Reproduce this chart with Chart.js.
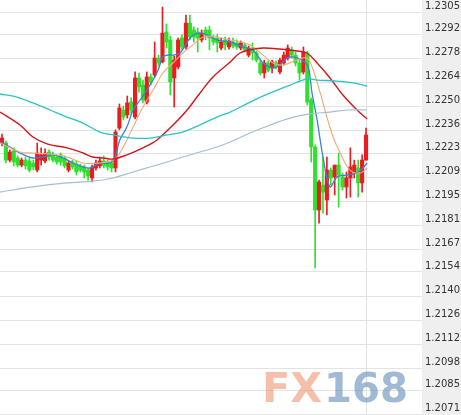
<!DOCTYPE html>
<html>
<head>
<meta charset="utf-8">
<script src="https://cdn.jsdelivr.net/npm/chart.js@4.4.0/dist/chart.umd.min.js"></script>
<style>
  html, body { margin: 0; padding: 0; background: #fff; }
  canvas { display: block; }
</style>
</head>
<body>
<canvas id="chart" width="461" height="415"></canvas>
<script>
// candles, oldest first (red = up, green = down)
const opens = [
  1.22289, 1.22289, 1.22190, 1.22243, 1.22202, 1.22161, 1.22190, 1.22185, 1.22173, 1.22132,
  1.22190, 1.22185, 1.22237, 1.22225, 1.22208, 1.22220, 1.22202, 1.22132, 1.22179, 1.22167,
  1.22156, 1.22150, 1.22132, 1.22086, 1.22144, 1.22156, 1.22185, 1.22179, 1.22173, 1.22144,
  1.22376, 1.22481, 1.22452, 1.22527, 1.22440, 1.22667, 1.22626, 1.22527, 1.22673, 1.22684,
  1.22783, 1.22760, 1.22934, 1.22888, 1.22667, 1.22731, 1.22899, 1.22847, 1.22986, 1.22946,
  1.22934, 1.22888, 1.22946, 1.22946, 1.22899, 1.22899, 1.22841, 1.22888, 1.22847, 1.22876,
  1.22870, 1.22841, 1.22859, 1.22800, 1.22841, 1.22812, 1.22754, 1.22696, 1.22754, 1.22725,
  1.22754, 1.22702, 1.22754, 1.22783, 1.22830, 1.22800, 1.22754, 1.22702, 1.22812, 1.22539,
  1.22266, 1.21900, 1.22045, 1.21958, 1.22132, 1.22092, 1.22161, 1.22092, 1.22034, 1.22086,
  1.22115, 1.22144, 1.22057, 1.22190
];
const highs = [
  1.22341, 1.22301, 1.22249, 1.22261, 1.22214, 1.22202, 1.22208, 1.22202, 1.22190, 1.22289,
  1.22261, 1.22255, 1.22249, 1.22237, 1.22220, 1.22231, 1.22214, 1.22185, 1.22190, 1.22185,
  1.22167, 1.22161, 1.22144, 1.22161, 1.22190, 1.22208, 1.22214, 1.22190, 1.22190, 1.22365,
  1.22516, 1.22504, 1.22562, 1.22551, 1.22702, 1.22696, 1.22655, 1.22702, 1.22690, 1.22876,
  1.22800, 1.23079, 1.22981, 1.22911, 1.22795, 1.22899, 1.22917, 1.23033, 1.23033, 1.22963,
  1.22957, 1.22946, 1.22963, 1.22969, 1.22917, 1.22922, 1.22899, 1.22905, 1.22899, 1.22899,
  1.22888, 1.22882, 1.22870, 1.22853, 1.22870, 1.22824, 1.22771, 1.22771, 1.22766, 1.22771,
  1.22766, 1.22783, 1.22818, 1.22859, 1.22847, 1.22818, 1.22771, 1.22847, 1.22824, 1.22551,
  1.22278, 1.22074, 1.22208, 1.22208, 1.22144, 1.22161, 1.22231, 1.22115, 1.22121, 1.22261,
  1.22190, 1.22190, 1.22220, 1.22376
];
const lows = [
  1.22272, 1.22173, 1.22179, 1.22156, 1.22150, 1.22150, 1.22138, 1.22121, 1.22132, 1.22121,
  1.22161, 1.22173, 1.22190, 1.22179, 1.22167, 1.22161, 1.22144, 1.22121, 1.22138, 1.22103,
  1.22121, 1.22086, 1.22074, 1.22063, 1.22132, 1.22144, 1.22144, 1.22132, 1.22121, 1.22121,
  1.22365, 1.22423, 1.22434, 1.22458, 1.22429, 1.22585, 1.22522, 1.22516, 1.22626, 1.22673,
  1.22737, 1.22754, 1.22841, 1.22568, 1.22498, 1.22719, 1.22830, 1.22835, 1.22888, 1.22876,
  1.22818, 1.22876, 1.22888, 1.22830, 1.22859, 1.22818, 1.22830, 1.22830, 1.22835, 1.22841,
  1.22835, 1.22830, 1.22818, 1.22789, 1.22771, 1.22760, 1.22684, 1.22667, 1.22702, 1.22696,
  1.22719, 1.22690, 1.22742, 1.22771, 1.22783, 1.22737, 1.22655, 1.22690, 1.22510, 1.22179,
  1.21563, 1.21824, 1.21882, 1.21871, 1.22045, 1.21987, 1.21917, 1.22016, 1.21970, 1.21975,
  1.22086, 1.21975, 1.22004, 1.22190
];
const closes = [
  1.22318, 1.22190, 1.22237, 1.22179, 1.22161, 1.22190, 1.22156, 1.22132, 1.22150, 1.22231,
  1.22220, 1.22231, 1.22208, 1.22190, 1.22179, 1.22179, 1.22156, 1.22173, 1.22150, 1.22121,
  1.22132, 1.22121, 1.22097, 1.22150, 1.22173, 1.22185, 1.22156, 1.22150, 1.22144, 1.22353,
  1.22493, 1.22440, 1.22522, 1.22481, 1.22667, 1.22615, 1.22539, 1.22673, 1.22644, 1.22783,
  1.22754, 1.22928, 1.22876, 1.22644, 1.22771, 1.22888, 1.22847, 1.22986, 1.22905, 1.22905,
  1.22899, 1.22928, 1.22917, 1.22899, 1.22876, 1.22870, 1.22876, 1.22859, 1.22882, 1.22853,
  1.22847, 1.22870, 1.22830, 1.22841, 1.22812, 1.22771, 1.22696, 1.22754, 1.22713, 1.22760,
  1.22731, 1.22771, 1.22800, 1.22841, 1.22800, 1.22754, 1.22696, 1.22818, 1.22527, 1.22266,
  1.21900, 1.22063, 1.22004, 1.22132, 1.22086, 1.22161, 1.22103, 1.22034, 1.22086, 1.22150,
  1.22161, 1.22057, 1.22190, 1.22336
];

// moving average lines: [candle index, price]
const maBlue = [
  [-0.5, 1.22295], [2, 1.22266], [4.6, 1.22231], [7.9, 1.22202], [10.5, 1.22208], [13, 1.22220],
  [15.6, 1.22202], [18.1, 1.22173], [20.7, 1.22150], [22.5, 1.22144], [25, 1.22173], [27.6, 1.22173],
  [28.9, 1.22208], [30.1, 1.22307], [31.9, 1.22382], [33.5, 1.22481], [35.3, 1.22539], [37, 1.22597],
  [38.6, 1.22655], [39.9, 1.22713], [41.1, 1.22789], [42.4, 1.22800], [43.7, 1.22800], [45.5, 1.22812],
  [47.3, 1.22876], [48.8, 1.22917], [50.6, 1.22928], [52.4, 1.22917], [54.9, 1.22888], [58.3, 1.22876],
  [61.6, 1.22847], [64.1, 1.22830], [66.7, 1.22754], [69.2, 1.22725], [71, 1.22742], [72.8, 1.22783],
  [74.3, 1.22789], [76.6, 1.22771], [78.2, 1.22731], [79.2, 1.22580], [80.5, 1.22423], [82, 1.22208],
  [83.8, 1.22034], [85.6, 1.22092], [88.1, 1.22103], [90.7, 1.22115], [92.2, 1.22144], [93.3, 1.22173]
];
const maOrange = [
  [-0.5, 1.22289], [4.6, 1.22237], [7.9, 1.22231], [12.3, 1.22225], [16.6, 1.22208], [20.7, 1.22173],
  [25, 1.22173], [28.4, 1.22190], [30.1, 1.22231], [31.9, 1.22307], [33.5, 1.22382], [36, 1.22498],
  [38.6, 1.22597], [41.1, 1.22696], [43.7, 1.22754], [46.2, 1.22812], [48.8, 1.22859], [51.4, 1.22905],
  [54.9, 1.22905], [58.3, 1.22888], [63.4, 1.22859], [66.7, 1.22800], [69.2, 1.22754], [71.8, 1.22742],
  [75.4, 1.22771], [77.9, 1.22783], [79.5, 1.22713], [81.3, 1.22580], [83, 1.22440], [84.6, 1.22324],
  [86.4, 1.22231], [88.9, 1.22132], [91.5, 1.22115], [93.3, 1.22144]
];
const maRed = [
  [-0.5, 1.22469], [4.6, 1.22394], [7.9, 1.22324], [11.5, 1.22284], [16.6, 1.22261], [20.7, 1.22231],
  [23.2, 1.22208], [25.8, 1.22202], [28.4, 1.22196], [31.9, 1.22220], [36, 1.22261], [39.6, 1.22307],
  [43.7, 1.22394], [47.3, 1.22481], [50.6, 1.22580], [53.9, 1.22673], [58.3, 1.22760], [60.8, 1.22812],
  [63.4, 1.22830], [66.7, 1.22841], [71, 1.22835], [75.4, 1.22824], [77.9, 1.22812], [80.5, 1.22754],
  [83.8, 1.22667], [87.1, 1.22568], [90.7, 1.22481], [93.3, 1.22429]
];
const maCyan = [
  [-0.5, 1.22574], [3.8, 1.22556], [7.9, 1.22522], [12.3, 1.22481], [16.6, 1.22440], [20.7, 1.22405],
  [25, 1.22353], [28.4, 1.22336], [33.5, 1.22318], [37.8, 1.22318], [42.2, 1.22336], [46.2, 1.22353],
  [50.6, 1.22394], [54.9, 1.22440], [58.3, 1.22469], [63.4, 1.22527], [68.5, 1.22580], [73.6, 1.22626],
  [77.9, 1.22661], [80.5, 1.22655], [85.6, 1.22649], [89.7, 1.22638], [93.3, 1.22620]
];
const maSteel = [
  [-0.5, 1.22004], [7.9, 1.22034], [16.6, 1.22057], [23.2, 1.22068], [28.4, 1.22086], [33.5, 1.22121],
  [37.8, 1.22150], [42.2, 1.22179], [46.2, 1.22208], [50.6, 1.22237], [54.9, 1.22266], [58.3, 1.22295],
  [63.4, 1.22347], [68.5, 1.22394], [73.6, 1.22434], [78.7, 1.22458], [83.8, 1.22469], [88.1, 1.22481],
  [93.3, 1.22481]
];

const tickLabels = [
  '1.2305', '1.2292', '1.2278', '1.2264', '1.2250', '1.2236', '1.2223', '1.2209', '1.2195',
  '1.2181', '1.2167', '1.2154', '1.2140', '1.2126', '1.2112', '1.2098', '1.2085', '1.2071'
];

const UP = '#ea1c1f';
const DOWN = '#2fe02f';
const colorOf = ctx => closes[ctx.dataIndex] >= opens[ctx.dataIndex] ? UP : DOWN;

const wicks = opens.map((o, i) => ({ x: i, y: [lows[i], highs[i]] }));
const bodies = opens.map((o, i) => ({ x: i, y: [o, closes[i]] }));
const toPoints = arr => arr.map(([x, y]) => ({ x, y }));

const maLine = (data, color, width) => ({
  type: 'line',
  data: toPoints(data),
  borderColor: color,
  borderWidth: width,
  pointRadius: 0,
  tension: 0.35,
  order: 0
});

// grey strip behind the price axis
const panel = {
  id: 'panel',
  beforeDraw(chart) {
    const { ctx, chartArea, width, height } = chart;
    ctx.save();
    ctx.fillStyle = '#fff';
    ctx.fillRect(0, 0, width, height);
    ctx.fillStyle = '#efefef';
    ctx.fillRect(chartArea.right, 0, width - chartArea.right, height);
    ctx.restore();
  }
};

// FX168 watermark
const watermark = {
  id: 'watermark',
  beforeDatasetsDraw(chart) {
    const ctx = chart.ctx;
    ctx.save();
    ctx.font = 'bold 40px "DejaVu Sans"';
    ctx.textBaseline = 'alphabetic';
    const drawPart = (txt, x, w, color) => {
      const m = ctx.measureText(txt).width;
      ctx.save();
      ctx.translate(x, 402);
      ctx.scale(w / m, 1);
      ctx.fillStyle = color;
      ctx.fillText(txt, 0, 0);
      ctx.restore();
    };
    drawPart('FX', 262, 60, 'rgba(236,150,115,0.6)');
    drawPart('168', 324, 84, 'rgba(95,140,180,0.6)');
    ctx.restore();
  }
};

new Chart(document.getElementById('chart'), {
  type: 'bar',
  data: {
    datasets: [
      maLine(maSteel, '#a4bfd2', 1.2),
      maLine(maCyan, '#2cc3c6', 1.3),
      maLine(maRed, '#d0181c', 1.4),
      maLine(maOrange, '#f2a77c', 1.1),
      maLine(maBlue, '#3c7fd9', 1.3),
      {
        data: wicks,
        backgroundColor: colorOf,
        barThickness: 1,
        grouped: false,
        order: 2
      },
      {
        data: bodies,
        backgroundColor: colorOf,
        barThickness: 3.5,
        minBarLength: 1,
        grouped: false,
        order: 1
      }
    ]
  },
  options: {
    responsive: false,
    devicePixelRatio: 1,
    animation: false,
    layout: { padding: 0 },
    plugins: { legend: { display: false }, tooltip: { enabled: false } },
    scales: {
      x: {
        type: 'linear',
        offset: false,
        min: -0.51,
        max: 107.3,
        afterBuildTicks: s => { s.ticks = [{ value: opens.length - 1 }]; },
        ticks: { display: false },
        grid: { color: '#e3e3e3', drawTicks: false, offset: false },
        border: { display: false }
      },
      y: {
        position: 'right',
        min: 1.20709,
        max: 1.23120,
        afterBuildTicks: s => { s.ticks = tickLabels.map(t => ({ value: parseFloat(t) })); },
        afterFit: s => { s.width = 39; s.paddingTop = 0; s.paddingBottom = 0; },
        ticks: {
          autoSkip: false,
          callback: (v, i) => tickLabels[i],
          color: '#333',
          font: { family: 'DejaVu Sans', size: 10 },
          padding: 3,
          labelOffset: -6
        },
        grid: { color: '#e3e3e3', drawTicks: false },
        border: { display: false }
      }
    }
  },
  plugins: [panel, watermark]
});
</script>
</body>
</html>
